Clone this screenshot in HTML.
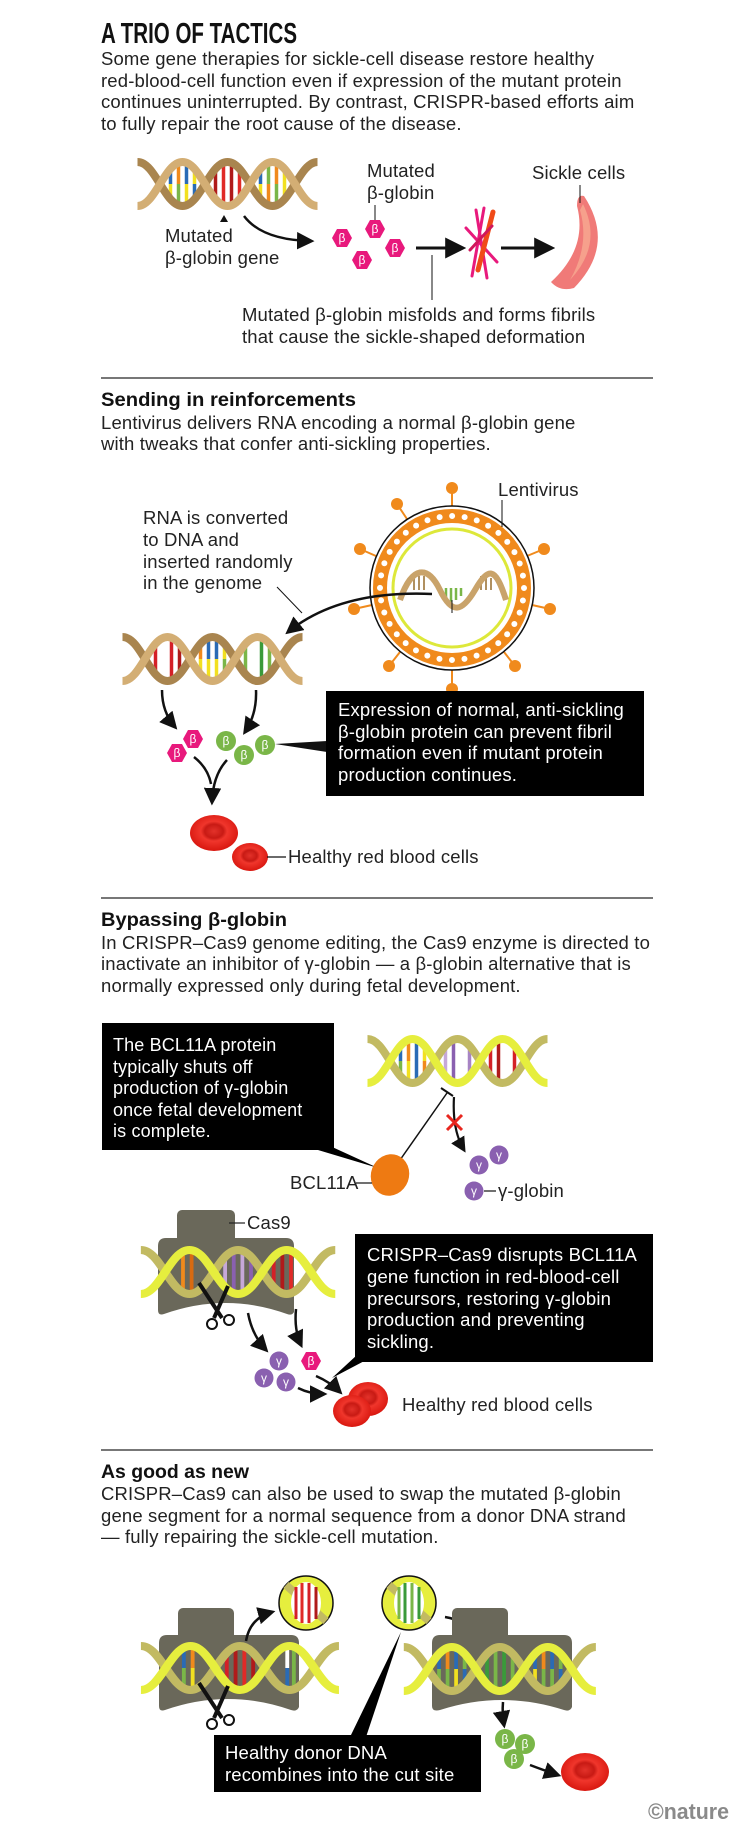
<!DOCTYPE html>
<html><head><meta charset="utf-8">
<style>
html,body{margin:0;padding:0;background:#fff;}
svg{display:block;}
text{font-family:"Liberation Sans",sans-serif;}
.t{letter-spacing:0.15px;}
</style></head>
<body>
<svg width="751" height="1832" viewBox="0 0 751 1832" xmlns="http://www.w3.org/2000/svg">
<defs>
<marker id="ah" viewBox="0 0 10 10" refX="8" refY="5" markerWidth="7" markerHeight="7" orient="auto-start-reverse"><path d="M0,0 L10,5 L0,10 Z" fill="#111"/></marker>
<radialGradient id="rbc" cx="50%" cy="45%" r="55%"><stop offset="0" stop-color="#e3322a"/><stop offset="0.35" stop-color="#c81a14"/><stop offset="0.5" stop-color="#f0362c"/><stop offset="1" stop-color="#d8170f"/></radialGradient>
<g id="tanStrands" fill="none" stroke-width="8">
<path d="M4.5,3 C22.5,3 31.5,47 49.5,47 S76.5,3 94.5,3 S121.5,47 139.5,47 S166.5,3 184.5,3" stroke="#a9854f"/>
<path d="M4.5,47 C22.5,47 31.5,3 49.5,3 S76.5,47 94.5,47 S121.5,3 139.5,3 S166.5,47 184.5,47" stroke="#d3ae74"/>
</g>
<g id="yelStrands" fill="none" stroke-width="8">
<path d="M4.5,3 C22.5,3 31.5,47 49.5,47 S76.5,3 94.5,3 S121.5,47 139.5,47 S166.5,3 184.5,3" stroke="#c2ba62"/>
<path d="M4.5,47 C22.5,47 31.5,3 49.5,3 S76.5,47 94.5,47 S121.5,3 139.5,3 S166.5,47 184.5,47" stroke="#e6ee3e"/>
</g>
<polygon id="hex" points="10,0 5,9 -5,9 -10,0 -5,-9 5,-9" fill="#e8197c"/>
</defs>

<!-- ============ SECTION 1 ============ -->
<text x="101" y="43" font-size="29" font-weight="bold" textLength="196" lengthAdjust="spacingAndGlyphs" fill="#111">A TRIO OF TACTICS</text>
<g font-size="18.5" fill="#222" class="t">
<text x="101" y="65">Some gene therapies for sickle-cell disease restore healthy</text>
<text x="101" y="87">red-blood-cell function even if expression of the mutant protein</text>
<text x="101" y="108">continues uninterrupted. By contrast, CRISPR-based efforts aim</text>
<text x="101" y="130">to fully repair the root cause of the disease.</text>
</g>

<!-- DNA1 -->
<g transform="translate(133,159)" stroke-width="3.5">
<g transform="translate(49.5,0)"><line x1="-12" y1="12" x2="-12" y2="25" stroke="#2a6bb5"/><line x1="-12" y1="25" x2="-12" y2="38" stroke="#f2e020"/><line x1="-4" y1="6" x2="-4" y2="25" stroke="#f08a1c"/><line x1="-4" y1="25" x2="-4" y2="44" stroke="#7ab648"/><line x1="4" y1="6" x2="4" y2="25" stroke="#2a6bb5"/><line x1="4" y1="25" x2="4" y2="44" stroke="#f2e020"/><line x1="12" y1="12" x2="12" y2="25" stroke="#f2e020"/><line x1="12" y1="25" x2="12" y2="38" stroke="#2a6bb5"/></g>
<g transform="translate(94.5,0)"><line x1="-12" y1="12" x2="-12" y2="38" stroke="#b01a1a"/><line x1="-4" y1="6" x2="-4" y2="44" stroke="#e02a27"/><line x1="4" y1="6" x2="4" y2="44" stroke="#b01a1a"/><line x1="12" y1="12" x2="12" y2="38" stroke="#e02a27"/></g>
<g transform="translate(139.5,0)"><line x1="-12" y1="12" x2="-12" y2="25" stroke="#2a6bb5"/><line x1="-12" y1="25" x2="-12" y2="38" stroke="#f2e020"/><line x1="-4" y1="6" x2="-4" y2="25" stroke="#7ab648"/><line x1="-4" y1="25" x2="-4" y2="44" stroke="#f08a1c"/><line x1="4" y1="6" x2="4" y2="25" stroke="#f08a1c"/><line x1="4" y1="25" x2="4" y2="44" stroke="#7ab648"/><line x1="12" y1="12" x2="12" y2="25" stroke="#f2e020"/><line x1="12" y1="25" x2="12" y2="38" stroke="#f2e020"/></g>
<use href="#tanStrands"/>
</g>
<path d="M224,215 L220,222 L228,222 Z" fill="#111"/>
<g font-size="18.5" fill="#222" class="t">
<text x="165" y="242">Mutated</text>
<text x="165" y="264">β-globin gene</text>
<text x="367" y="177">Mutated</text>
<text x="367" y="199">β-globin</text>
<text x="532" y="179">Sickle cells</text>
<text x="242" y="321">Mutated β-globin misfolds and forms fibrils</text>
<text x="242" y="343">that cause the sickle-shaped deformation</text>
</g>
<path d="M244,216 Q262,240 311,241" fill="none" stroke="#111" stroke-width="2.5" marker-end="url(#ah)"/>
<line x1="375" y1="205" x2="375" y2="222" stroke="#111" stroke-width="1"/>
<use href="#hex" x="342" y="238"/><use href="#hex" x="375" y="229"/><use href="#hex" x="362" y="260"/><use href="#hex" x="395" y="248"/>
<g font-size="12" fill="#fff" text-anchor="middle"><text x="342" y="242">β</text><text x="375" y="233">β</text><text x="362" y="264">β</text><text x="395" y="252">β</text></g>
<line x1="416" y1="248" x2="462" y2="248" stroke="#111" stroke-width="3" marker-end="url(#ah)"/>
<g stroke-width="3" stroke-linecap="round">
<line x1="476" y1="210" x2="487" y2="278" stroke="#e8197c"/>
<line x1="484" y1="208" x2="472" y2="276" stroke="#e8197c"/>
<line x1="466" y1="228" x2="497" y2="262" stroke="#e8197c"/>
<line x1="493" y1="212" x2="478" y2="270" stroke="#f04a18" stroke-width="5"/>
<line x1="470" y1="250" x2="492" y2="226" stroke="#d0185a"/>
</g>
<line x1="501" y1="248" x2="551" y2="248" stroke="#111" stroke-width="3" marker-end="url(#ah)"/>
<path d="M584,196 Q616,245 574,288 Q560,292 551,282 Q588,248 577,206 Q577,194 584,196 Z" fill="#f07a78"/>
<path d="M583,204 Q603,245 570,280 Q590,245 580,210 Z" fill="#f6a08c"/>
<line x1="580" y1="185" x2="580" y2="203" stroke="#111" stroke-width="1"/>
<line x1="432" y1="255" x2="432" y2="300" stroke="#111" stroke-width="1"/>
<line x1="101" y1="378" x2="653" y2="378" stroke="#777" stroke-width="2"/>

<!-- ============ SECTION 2 ============ -->
<text x="101" y="406" font-size="19" font-weight="bold" fill="#111" textLength="255" lengthAdjust="spacingAndGlyphs">Sending in reinforcements</text>
<g font-size="18.5" fill="#222" class="t">
<text x="101" y="429">Lentivirus delivers RNA encoding a normal β-globin gene</text>
<text x="101" y="450">with tweaks that confer anti-sickling properties.</text>
<text x="498" y="496">Lentivirus</text>
<text x="143" y="524">RNA is converted</text>
<text x="143" y="546">to DNA and</text>
<text x="143" y="568">inserted randomly</text>
<text x="143" y="589">in the genome</text>
<text x="436" y="631">RNA</text>
</g>
<!-- lentivirus -->
<g stroke="#f08a1c" stroke-width="2">
<line x1="452" y1="506" x2="452" y2="488"/><line x1="407" y1="519" x2="397" y2="504"/><line x1="376" y1="556" x2="360" y2="549"/><line x1="372" y1="605" x2="354" y2="609"/><line x1="400" y1="652" x2="389" y2="666"/><line x1="452" y1="670" x2="452" y2="688"/><line x1="504" y1="652" x2="515" y2="666"/><line x1="532" y1="605" x2="550" y2="609"/><line x1="527" y1="556" x2="544" y2="549"/>
</g>
<g fill="#f08a1c">
<circle cx="452" cy="488" r="6"/><circle cx="397" cy="504" r="6"/><circle cx="360" cy="549" r="6"/><circle cx="354" cy="609" r="6"/><circle cx="389" cy="666" r="6"/><circle cx="452" cy="689" r="6"/><circle cx="515" cy="666" r="6"/><circle cx="550" cy="609" r="6"/><circle cx="544" cy="549" r="6"/>
</g>
<circle cx="452" cy="588" r="82" fill="#fff" stroke="#111" stroke-width="1.5"/>
<circle cx="452" cy="588" r="72" fill="none" stroke="#f08a1c" stroke-width="14"/>
<circle cx="452" cy="588" r="72" fill="none" stroke="#fff" stroke-width="6" stroke-dasharray="0 12.566" stroke-linecap="round"/>
<circle cx="452" cy="588" r="59" fill="none" stroke="#dde83a" stroke-width="3"/>
<line x1="502" y1="500" x2="502" y2="527" stroke="#111" stroke-width="1"/>
<!-- RNA -->
<g stroke-width="2.5" stroke="#7ab648"><line x1="446" y1="588" x2="446" y2="600"/><line x1="451" y1="588" x2="451" y2="602"/><line x1="456" y1="588" x2="456" y2="600"/><line x1="441" y1="588" x2="441" y2="596"/><line x1="461" y1="588" x2="461" y2="596"/></g>
<g stroke-width="2" stroke="#b09060"><line x1="414" y1="578" x2="414" y2="590"/><line x1="419" y1="576" x2="419" y2="590"/><line x1="424" y1="576" x2="424" y2="590"/><line x1="481" y1="576" x2="481" y2="590"/><line x1="486" y1="576" x2="486" y2="590"/><line x1="491" y1="578" x2="491" y2="590"/></g>
<path d="M400,600 C412,565 428,565 440,590 S462,612 475,590 S495,565 506,600" fill="none" stroke="#c9a36a" stroke-width="6"/>
<line x1="452" y1="600" x2="452" y2="613" stroke="#111" stroke-width="1"/>
<path d="M432,594 Q340,590 288,632" fill="none" stroke="#111" stroke-width="2.5" marker-end="url(#ah)"/>
<line x1="277" y1="587" x2="302" y2="613" stroke="#111" stroke-width="1"/>
<!-- DNA2 -->
<g transform="translate(118,634)" stroke-width="3.5">
<g transform="translate(49.5,0)"><line x1="-12" y1="12" x2="-12" y2="38" stroke="#d42027"/><line x1="-4" y1="6" x2="-4" y2="44" stroke="#fff"/><line x1="4" y1="6" x2="4" y2="44" stroke="#d42027"/><line x1="12" y1="12" x2="12" y2="38" stroke="#b01a1a"/></g>
<g transform="translate(94.5,0)"><line x1="-12" y1="12" x2="-12" y2="25" stroke="#f08a1c"/><line x1="-12" y1="25" x2="-12" y2="38" stroke="#f2e020"/><line x1="-4" y1="6" x2="-4" y2="25" stroke="#2a6bb5"/><line x1="-4" y1="25" x2="-4" y2="44" stroke="#f2e020"/><line x1="4" y1="6" x2="4" y2="25" stroke="#2a6bb5"/><line x1="4" y1="25" x2="4" y2="44" stroke="#f2e020"/><line x1="12" y1="12" x2="12" y2="25" stroke="#f2e020"/><line x1="12" y1="25" x2="12" y2="38" stroke="#7ab648"/></g>
<g transform="translate(139.5,0)"><line x1="-12" y1="12" x2="-12" y2="38" stroke="#7ab648"/><line x1="-4" y1="6" x2="-4" y2="44" stroke="#fff"/><line x1="4" y1="6" x2="4" y2="44" stroke="#3a9a3a"/><line x1="12" y1="12" x2="12" y2="38" stroke="#7ab648"/></g>
<use href="#tanStrands"/>
</g>
<path d="M162,690 Q162,712 175,727" fill="none" stroke="#111" stroke-width="2.5" marker-end="url(#ah)"/>
<path d="M256,690 Q257,714 245,732" fill="none" stroke="#111" stroke-width="2.5" marker-end="url(#ah)"/>
<use href="#hex" x="193" y="739"/><use href="#hex" x="177" y="753"/>
<g fill="#7ab648"><circle cx="226" cy="741" r="10"/><circle cx="244" cy="755" r="10"/><circle cx="265" cy="745" r="10"/></g>
<g font-size="12" fill="#fff" text-anchor="middle"><text x="193" y="743">β</text><text x="177" y="757">β</text><text x="226" y="745">β</text><text x="244" y="759">β</text><text x="265" y="749">β</text></g>
<path d="M275,744 L327,741 L327,752 Z" fill="#111"/>
<path d="M194,757 Q208,768 211,784" fill="none" stroke="#111" stroke-width="2.5"/>
<path d="M227,760 Q213,775 212,802" fill="none" stroke="#111" stroke-width="2.5" marker-end="url(#ah)"/>
<rect x="326" y="691" width="318" height="105" fill="#000"/>
<g font-size="18.5" fill="#fff" class="t">
<text x="338" y="716">Expression of normal, anti-sickling</text>
<text x="338" y="738">β-globin protein can prevent fibril</text>
<text x="338" y="759">formation even if mutant protein</text>
<text x="338" y="781">production continues.</text>
</g>
<ellipse cx="214" cy="833" rx="24" ry="18" fill="url(#rbc)"/>
<ellipse cx="250" cy="857" rx="18" ry="14" fill="url(#rbc)"/>
<line x1="267" y1="857" x2="286" y2="857" stroke="#111" stroke-width="1.2"/>
<text x="288" y="863" font-size="18.5" fill="#222" class="t">Healthy red blood cells</text>
<line x1="101" y1="898" x2="653" y2="898" stroke="#777" stroke-width="2"/>

<!-- ============ SECTION 3 ============ -->
<text x="101" y="926" font-size="19" font-weight="bold" fill="#111" textLength="186" lengthAdjust="spacingAndGlyphs">Bypassing β-globin</text>
<g font-size="18.5" fill="#222" class="t">
<text x="101" y="949">In CRISPR–Cas9 genome editing, the Cas9 enzyme is directed to</text>
<text x="101" y="970">inactivate an inhibitor of γ-globin — a β-globin alternative that is</text>
<text x="101" y="992">normally expressed only during fetal development.</text>
</g>
<rect x="102" y="1023" width="232" height="127" fill="#000"/>
<path d="M330,1146 L378,1168 L318,1150 Z" fill="#000"/>
<g font-size="18" fill="#fff" class="t">
<text x="113" y="1051">The BCL11A protein</text>
<text x="113" y="1073">typically shuts off</text>
<text x="113" y="1094">production of γ-globin</text>
<text x="113" y="1116">once fetal development</text>
<text x="113" y="1137">is complete.</text>
</g>
<!-- DNA3 -->
<g transform="translate(363,1036)" stroke-width="3.5">
<g transform="translate(49.5,0)"><line x1="-12" y1="12" x2="-12" y2="25" stroke="#2a6bb5"/><line x1="-12" y1="25" x2="-12" y2="38" stroke="#7ab648"/><line x1="-4" y1="6" x2="-4" y2="25" stroke="#f08a1c"/><line x1="-4" y1="25" x2="-4" y2="44" stroke="#f2e020"/><line x1="4" y1="6" x2="4" y2="25" stroke="#2a6bb5"/><line x1="4" y1="25" x2="4" y2="44" stroke="#2a6bb5"/><line x1="12" y1="12" x2="12" y2="25" stroke="#f2e020"/><line x1="12" y1="25" x2="12" y2="38" stroke="#f08a1c"/></g>
<g transform="translate(94.5,0)"><line x1="-12" y1="12" x2="-12" y2="38" stroke="#c6a8d8"/><line x1="-4" y1="6" x2="-4" y2="44" stroke="#8a60b0"/><line x1="4" y1="6" x2="4" y2="44" stroke="#fff"/><line x1="12" y1="12" x2="12" y2="38" stroke="#a784c4"/></g>
<g transform="translate(139.5,0)"><line x1="-12" y1="12" x2="-12" y2="38" stroke="#d42027"/><line x1="-4" y1="6" x2="-4" y2="44" stroke="#b01a1a"/><line x1="4" y1="6" x2="4" y2="44" stroke="#fff"/><line x1="12" y1="12" x2="12" y2="38" stroke="#d42027"/></g>
<use href="#yelStrands"/>
</g>
<line x1="400" y1="1160" x2="447" y2="1093" stroke="#111" stroke-width="1.5"/>
<line x1="441" y1="1088" x2="453" y2="1096" stroke="#111" stroke-width="2"/>
<path d="M454,1097 Q452,1130 464,1150" fill="none" stroke="#111" stroke-width="2.2" marker-end="url(#ah)"/>
<g stroke="#e8261e" stroke-width="3"><line x1="447" y1="1115" x2="462" y2="1130"/><line x1="462" y1="1115" x2="447" y2="1130"/></g>
<ellipse cx="390" cy="1175" rx="19" ry="21" fill="#ee7a12" transform="rotate(20 390 1175)"/>
<line x1="356" y1="1183" x2="372" y2="1183" stroke="#111" stroke-width="1.2"/>
<text x="290" y="1189" font-size="18.5" fill="#222" class="t">BCL11A</text>
<g fill="#8a60b0"><circle cx="479" cy="1165" r="9.5"/><circle cx="499" cy="1155" r="9.5"/><circle cx="474" cy="1191" r="9.5"/></g>
<g font-size="12" fill="#fff" text-anchor="middle"><text x="479" y="1169">γ</text><text x="499" y="1159">γ</text><text x="474" y="1195">γ</text></g>
<line x1="484" y1="1191" x2="496" y2="1191" stroke="#111" stroke-width="1.2"/>
<text x="498" y="1197" font-size="18.5" fill="#222" class="t">γ-globin</text>
<!-- Cas9 -->
<rect x="177" y="1210" width="58" height="35" rx="5" fill="#6a685a"/>
<path d="M166,1238 H286 Q294,1238 294,1246 V1312 Q292,1316 287,1314 Q226,1292 164,1314 Q158,1316 158,1310 V1246 Q158,1238 166,1238 Z" fill="#6a685a"/>
<line x1="229" y1="1223" x2="245" y2="1223" stroke="#222" stroke-width="1.2"/>
<text x="247" y="1229" font-size="18.5" fill="#222" class="t">Cas9</text>
<g transform="translate(136,1247) scale(1.08,1)" stroke-width="3.5">
<g transform="translate(49.5,0)"><line x1="-6" y1="6" x2="-6" y2="44" stroke="#f08a1c"/><line x1="2" y1="6" x2="2" y2="44" stroke="#d86a10"/></g>
<g transform="translate(94.5,0)"><line x1="-12" y1="12" x2="-12" y2="38" stroke="#c6a8d8"/><line x1="-4" y1="6" x2="-4" y2="44" stroke="#8a60b0"/><line x1="4" y1="6" x2="4" y2="44" stroke="#c6a8d8"/><line x1="12" y1="12" x2="12" y2="38" stroke="#8a60b0"/></g>
<g transform="translate(139.5,0)"><line x1="-12" y1="12" x2="-12" y2="38" stroke="#d42027"/><line x1="-4" y1="6" x2="-4" y2="44" stroke="#b01a1a"/><line x1="4" y1="6" x2="4" y2="44" stroke="#e02a27"/><line x1="12" y1="12" x2="12" y2="38" stroke="#fff"/></g>
<use href="#yelStrands"/>
</g>
<!-- scissors -->
<g stroke="#111" fill="none"><path d="M199,1283 L222,1318" stroke-width="4"/><path d="M228,1286 L214,1318" stroke-width="4"/><circle cx="212" cy="1324" r="5" stroke-width="2" fill="#fff"/><circle cx="229" cy="1320" r="5" stroke-width="2" fill="#fff"/></g>
<path d="M248,1313 Q252,1335 266,1350" fill="none" stroke="#111" stroke-width="2.5" marker-end="url(#ah)"/>
<path d="M296,1309 Q294,1330 301,1345" fill="none" stroke="#111" stroke-width="2.5" marker-end="url(#ah)"/>
<rect x="355" y="1234" width="298" height="128" fill="#000"/>
<path d="M357,1355 L332,1378 L370,1358 Z" fill="#000"/>
<g font-size="18.5" fill="#fff" class="t">
<text x="367" y="1261">CRISPR–Cas9 disrupts BCL11A</text>
<text x="367" y="1283">gene function in red-blood-cell</text>
<text x="367" y="1305">precursors, restoring γ-globin</text>
<text x="367" y="1326">production and preventing</text>
<text x="367" y="1348">sickling.</text>
</g>
<g fill="#8a60b0"><circle cx="279" cy="1361" r="9.5"/><circle cx="264" cy="1378" r="9.5"/><circle cx="286" cy="1382" r="9.5"/></g>
<use href="#hex" x="311" y="1361"/>
<g font-size="12" fill="#fff" text-anchor="middle"><text x="279" y="1365">γ</text><text x="264" y="1382">γ</text><text x="286" y="1386">γ</text><text x="311" y="1365">β</text></g>
<path d="M298,1388 Q310,1394 324,1394" fill="none" stroke="#111" stroke-width="2.5" marker-end="url(#ah)"/>
<path d="M316,1376 Q330,1382 340,1392" fill="none" stroke="#111" stroke-width="2.5" marker-end="url(#ah)"/>
<ellipse cx="368" cy="1399" rx="20" ry="17" fill="url(#rbc)"/>
<ellipse cx="352" cy="1411" rx="19" ry="16" fill="url(#rbc)"/>
<text x="402" y="1411" font-size="18.5" fill="#222" class="t">Healthy red blood cells</text>
<line x1="101" y1="1450" x2="653" y2="1450" stroke="#777" stroke-width="2"/>

<!-- ============ SECTION 4 ============ -->
<text x="101" y="1478" font-size="19" font-weight="bold" fill="#111" textLength="148" lengthAdjust="spacingAndGlyphs">As good as new</text>
<g font-size="18.5" fill="#222" class="t">
<text x="101" y="1500">CRISPR–Cas9 can also be used to swap the mutated β-globin</text>
<text x="101" y="1522">gene segment for a normal sequence from a donor DNA strand</text>
<text x="101" y="1543">— fully repairing the sickle-cell mutation.</text>
</g>
<!-- left Cas9 -->
<rect x="178" y="1608" width="56" height="34" rx="5" fill="#6a685a"/>
<path d="M167,1635 H291 Q299,1635 299,1643 V1707 Q297,1712 291,1710 Q228,1688 165,1710 Q159,1712 159,1706 V1643 Q159,1635 167,1635 Z" fill="#6a685a"/>
<g transform="translate(136,1643) scale(1.1,1)" stroke-width="3.5">
<g transform="translate(49.5,0)"><line x1="-6" y1="6" x2="-6" y2="25" stroke="#2a6bb5"/><line x1="-6" y1="25" x2="-6" y2="44" stroke="#7ab648"/><line x1="2" y1="6" x2="2" y2="25" stroke="#f08a1c"/><line x1="2" y1="25" x2="2" y2="44" stroke="#f2e020"/></g>
<g transform="translate(94.5,0)"><line x1="-12" y1="12" x2="-12" y2="38" stroke="#d42027"/><line x1="-4" y1="6" x2="-4" y2="44" stroke="#b01a1a"/><line x1="4" y1="6" x2="4" y2="44" stroke="#e02a27"/><line x1="12" y1="12" x2="12" y2="38" stroke="#b01a1a"/></g>
<g transform="translate(139.5,0)"><line x1="-2" y1="6" x2="-2" y2="25" stroke="#fff"/><line x1="-2" y1="25" x2="-2" y2="44" stroke="#2a6bb5"/><line x1="4" y1="6" x2="4" y2="25" stroke="#7ab648"/><line x1="4" y1="25" x2="4" y2="44" stroke="#7ab648"/></g>
<use href="#yelStrands"/>
</g>
<g stroke="#111" fill="none"><path d="M199,1683 L222,1718" stroke-width="4"/><path d="M228,1686 L214,1718" stroke-width="4"/><circle cx="212" cy="1724" r="5" stroke-width="2" fill="#fff"/><circle cx="229" cy="1720" r="5" stroke-width="2" fill="#fff"/></g>
<path d="M246,1641 Q250,1618 272,1612" fill="none" stroke="#111" stroke-width="2.5" marker-end="url(#ah)"/>
<!-- circles -->
<circle cx="306" cy="1603" r="27" fill="#e6ee3e" stroke="#111" stroke-width="1.5"/>
<path d="M286,1585 Q306,1603 326,1621" stroke="#c2ba62" stroke-width="8" fill="none"/>
<ellipse cx="306" cy="1603" rx="15" ry="21" fill="#fff"/>
<g stroke-width="3"><line x1="296" y1="1587" x2="296" y2="1619" stroke="#d42027"/><line x1="302" y1="1583" x2="302" y2="1623" stroke="#e02a27"/><line x1="309" y1="1583" x2="309" y2="1623" stroke="#d42027"/><line x1="316" y1="1587" x2="316" y2="1619" stroke="#b01a1a"/></g>
<circle cx="409" cy="1603" r="27" fill="#e6ee3e" stroke="#111" stroke-width="1.5"/>
<path d="M389,1585 Q409,1603 429,1621" stroke="#c2ba62" stroke-width="8" fill="none"/>
<ellipse cx="409" cy="1603" rx="15" ry="21" fill="#fff"/>
<g stroke-width="3"><line x1="399" y1="1587" x2="399" y2="1619" stroke="#7ab648"/><line x1="405" y1="1583" x2="405" y2="1623" stroke="#3a9a3a"/><line x1="412" y1="1583" x2="412" y2="1623" stroke="#7ab648"/><line x1="419" y1="1587" x2="419" y2="1619" stroke="#3a9a3a"/></g>
<path d="M445,1617 Q465,1620 478,1637" fill="none" stroke="#111" stroke-width="2.5" marker-end="url(#ah)"/>
<!-- right Cas9 -->
<rect x="452" y="1608" width="56" height="34" rx="5" fill="#6a685a"/>
<path d="M440,1635 H564 Q572,1635 572,1643 V1707 Q570,1712 564,1710 Q502,1690 440,1710 Q432,1712 432,1706 V1643 Q432,1635 440,1635 Z" fill="#6a685a"/>
<g transform="translate(399,1644) scale(1.067,1)" stroke-width="3.5">
<g transform="translate(49.5,0)"><line x1="-12" y1="12" x2="-12" y2="25" stroke="#2a6bb5"/><line x1="-12" y1="25" x2="-12" y2="38" stroke="#7ab648"/><line x1="-4" y1="6" x2="-4" y2="25" stroke="#f08a1c"/><line x1="-4" y1="25" x2="-4" y2="44" stroke="#7ab648"/><line x1="4" y1="6" x2="4" y2="25" stroke="#2a6bb5"/><line x1="4" y1="25" x2="4" y2="44" stroke="#f2e020"/><line x1="12" y1="12" x2="12" y2="25" stroke="#7ab648"/><line x1="12" y1="25" x2="12" y2="38" stroke="#2a6bb5"/></g>
<g transform="translate(94.5,0)"><line x1="-12" y1="12" x2="-12" y2="38" stroke="#3a9a3a"/><line x1="-4" y1="6" x2="-4" y2="44" stroke="#7ab648"/><line x1="4" y1="6" x2="4" y2="44" stroke="#3a9a3a"/><line x1="12" y1="12" x2="12" y2="38" stroke="#7ab648"/></g>
<g transform="translate(139.5,0)"><line x1="-12" y1="12" x2="-12" y2="25" stroke="#2a6bb5"/><line x1="-12" y1="25" x2="-12" y2="38" stroke="#f2e020"/><line x1="-4" y1="6" x2="-4" y2="25" stroke="#f08a1c"/><line x1="-4" y1="25" x2="-4" y2="44" stroke="#7ab648"/><line x1="4" y1="6" x2="4" y2="25" stroke="#2a6bb5"/><line x1="4" y1="25" x2="4" y2="44" stroke="#7ab648"/><line x1="12" y1="12" x2="12" y2="25" stroke="#7ab648"/><line x1="12" y1="25" x2="12" y2="38" stroke="#2a6bb5"/></g>
<use href="#yelStrands"/>
</g>
<path d="M401,1632 L350,1737 L366,1737 Z" fill="#000"/>
<rect x="214" y="1735" width="267" height="57" fill="#000"/>
<g font-size="18.5" fill="#fff" class="t">
<text x="225" y="1759">Healthy donor DNA</text>
<text x="225" y="1781">recombines into the cut site</text>
</g>
<path d="M503,1702 Q502,1714 504,1725" fill="none" stroke="#111" stroke-width="2.5" marker-end="url(#ah)"/>
<g fill="#7ab648"><circle cx="505" cy="1739" r="10"/><circle cx="525" cy="1744" r="10"/><circle cx="514" cy="1759" r="10"/></g>
<g font-size="12" fill="#fff" text-anchor="middle"><text x="505" y="1743">β</text><text x="525" y="1748">β</text><text x="514" y="1763">β</text></g>
<path d="M530,1765 Q543,1770 558,1775" fill="none" stroke="#111" stroke-width="2.5" marker-end="url(#ah)"/>
<ellipse cx="585" cy="1772" rx="24" ry="19" fill="url(#rbc)"/>
<text x="648" y="1819" font-size="22" font-weight="bold" fill="#8a8a8a" textLength="81" lengthAdjust="spacingAndGlyphs">©nature</text>
</svg>
</body></html>
